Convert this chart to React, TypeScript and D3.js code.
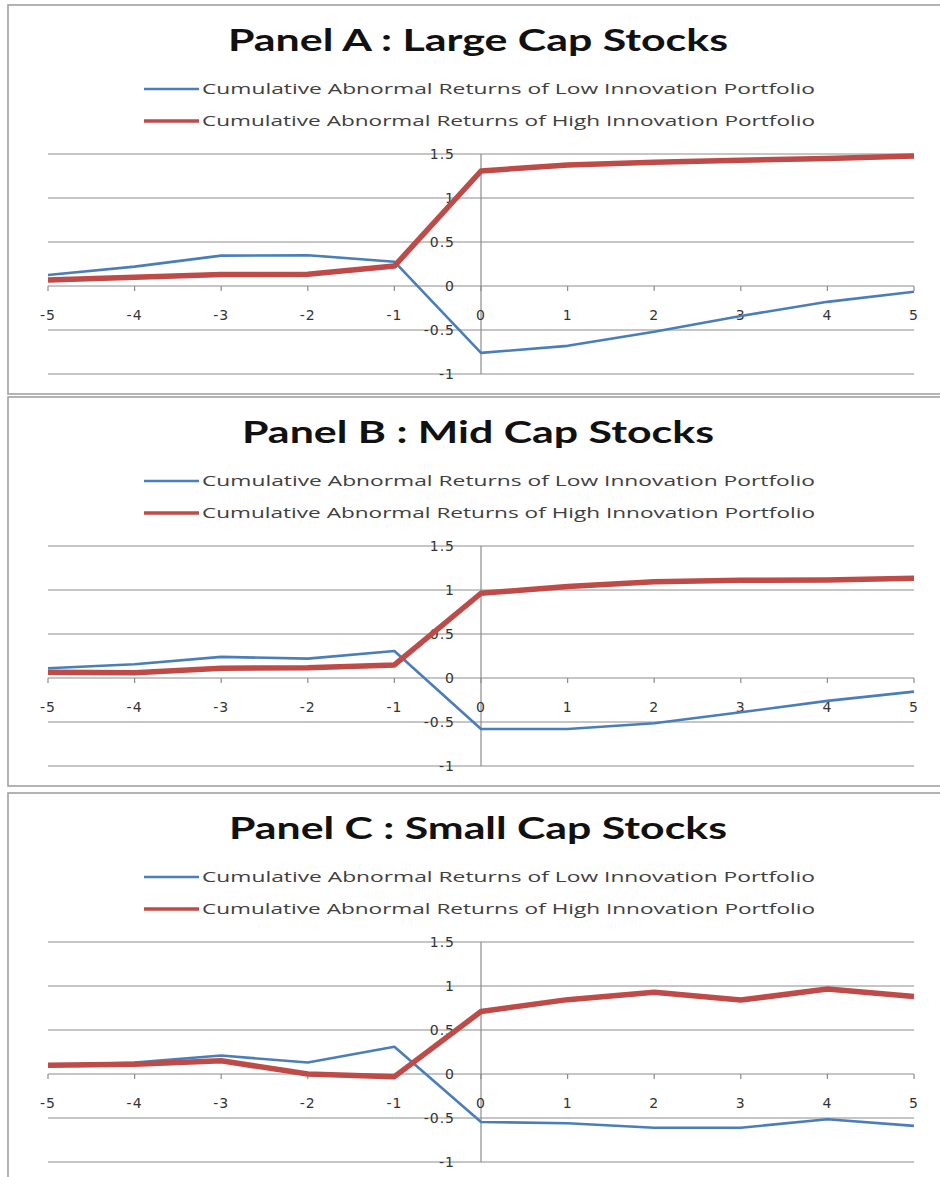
import React from "react";
import * as d3 from "d3";

const days = [-5, -4, -3, -2, -1, 0, 1, 2, 3, 4, 5];
const panelTitles = [
  "Panel A : Large Cap Stocks",
  "Panel B : Mid Cap Stocks",
  "Panel C : Small Cap Stocks",
];
const seriesNames = [
  "Cumulative Abnormal Returns of Low Innovation  Portfolio",
  "Cumulative Abnormal Returns of High Innovation  Portfolio",
];
const largeLow = [0.125, 0.22, 0.345, 0.35, 0.276, -0.76, -0.68, -0.52, -0.34, -0.18, -0.065];
const largeHigh = [0.068, 0.1, 0.13, 0.133, 0.227, 1.307, 1.375, 1.405, 1.43, 1.45, 1.477];
const midLow = [0.11, 0.156, 0.24, 0.22, 0.307, -0.58, -0.58, -0.515, -0.39, -0.26, -0.155];
const midHigh = [0.065, 0.06, 0.11, 0.117, 0.148, 0.963, 1.04, 1.095, 1.11, 1.114, 1.133];
const smallLow = [0.1, 0.13, 0.21, 0.13, 0.31, -0.545, -0.56, -0.61, -0.61, -0.515, -0.59];
const smallHigh = [0.1, 0.11, 0.15, 0.0, -0.03, 0.71, 0.845, 0.93, 0.84, 0.965, 0.88];
const yTicks = [-1, -0.5, 0, 0.5, 1, 1.5];
const yTickLabels = ["-1", "-0.5", "0", "0.5", "1", "1.5"];
const xTickLabels = ["-5", "-4", "-3", "-2", "-1", "0", "1", "2", "3", "4", "5"];

const panelLows = [largeLow, midLow, smallLow];
const panelHighs = [largeHigh, midHigh, smallHigh];

const panelTops = [5, 397, 793];
const panelBottoms = [394, 786, 1200];
const titleWidths = [500, 472, 498];

const BLUE = "#4a7ebb";
const RED = "#be4b48";
const GRID = "#8c8c8c";
const FRAME = "#a0a0a0";

const x = d3.scaleLinear().domain([-5, 5]).range([48, 914]);

function Panel({ idx }: { idx: number }) {
  const top = panelTops[idx];
  const plotTop = top + 149;
  const y = d3.scaleLinear().domain([-1, 1.5]).range([plotTop + 220, plotTop]);
  const line = d3
    .line<number>()
    .x((_, i) => x(days[i]))
    .y((d) => y(d));
  const low = panelLows[idx];
  const high = panelHighs[idx];
  const zeroY = y(0);
  return (
    <g>
      <rect
        x={8}
        y={top}
        width={940}
        height={panelBottoms[idx] - top}
        fill="#ffffff"
        stroke={FRAME}
        strokeWidth={1.6}
      />
      <text
        x={478}
        y={top + 46}
        textAnchor="middle"
        fontFamily="Lato, 'Open Sans', sans-serif"
        fontWeight="bold"
        fontSize={31}
        fill="#111"
        textLength={titleWidths[idx]}
        lengthAdjust="spacingAndGlyphs"
      >
        {panelTitles[idx]}
      </text>
      {seriesNames.map((name, i) => {
        const ly = top + 84 + i * 32;
        return (
          <g key={name}>
            <line
              x1={144}
              x2={199}
              y1={ly}
              y2={ly}
              stroke={i === 0 ? BLUE : RED}
              strokeWidth={i === 0 ? 2.5 : 3.5}
            />
            <text
              x={202}
              y={ly}
              dy="0.35em"
              fontFamily="'Open Sans', 'DejaVu Sans', sans-serif"
              fontSize={15}
              fill="#404040"
              textLength={613}
              lengthAdjust="spacingAndGlyphs"
            >
              {name}
            </text>
          </g>
        );
      })}
      {yTicks.map((t) => (
        <line
          key={"g" + t}
          x1={x(-5)}
          x2={x(5)}
          y1={y(t)}
          y2={y(t)}
          stroke={GRID}
          strokeWidth={1}
        />
      ))}
      <line x1={x(0)} x2={x(0)} y1={y(1.5)} y2={y(-1)} stroke={GRID} strokeWidth={1.2} />
      {days.map((d) => (
        <line
          key={"t" + d}
          x1={x(d)}
          x2={x(d)}
          y1={zeroY}
          y2={zeroY + 5}
          stroke={GRID}
          strokeWidth={1.2}
        />
      ))}
      {yTicks.map((t, i) => (
        <text
          key={"yl" + t}
          x={455}
          y={y(t)}
          dy="0.35em"
          textAnchor="end"
          fontFamily="'DejaVu Sans', sans-serif"
          fontSize={14}
          letterSpacing={1}
          fill="#333"
        >
          {yTickLabels[i]}
        </text>
      ))}
      {days.map((d, i) => (
        <text
          key={"xl" + d}
          x={x(d)}
          y={zeroY + 29}
          dy="0.35em"
          textAnchor="middle"
          fontFamily="'DejaVu Sans', sans-serif"
          fontSize={14}
          letterSpacing={1}
          fill="#333"
        >
          {xTickLabels[i]}
        </text>
      ))}
      <path d={line(low) || ""} fill="none" stroke={BLUE} strokeWidth={2.6} strokeLinejoin="round" />
      <path d={line(high) || ""} fill="none" stroke={RED} strokeWidth={5.5} strokeLinejoin="round" />
    </g>
  );
}

export default function App() {
  return (
    <svg
      width={940}
      height={1177}
      viewBox="0 0 940 1177"
      style={{ position: "absolute", left: 0, top: 0, background: "#fff" }}
    >
      <rect x={0} y={0} width={940} height={1177} fill="#fff" />
      {panelTitles.map((_, i) => (
        <Panel key={i} idx={i} />
      ))}
    </svg>
  );
}
